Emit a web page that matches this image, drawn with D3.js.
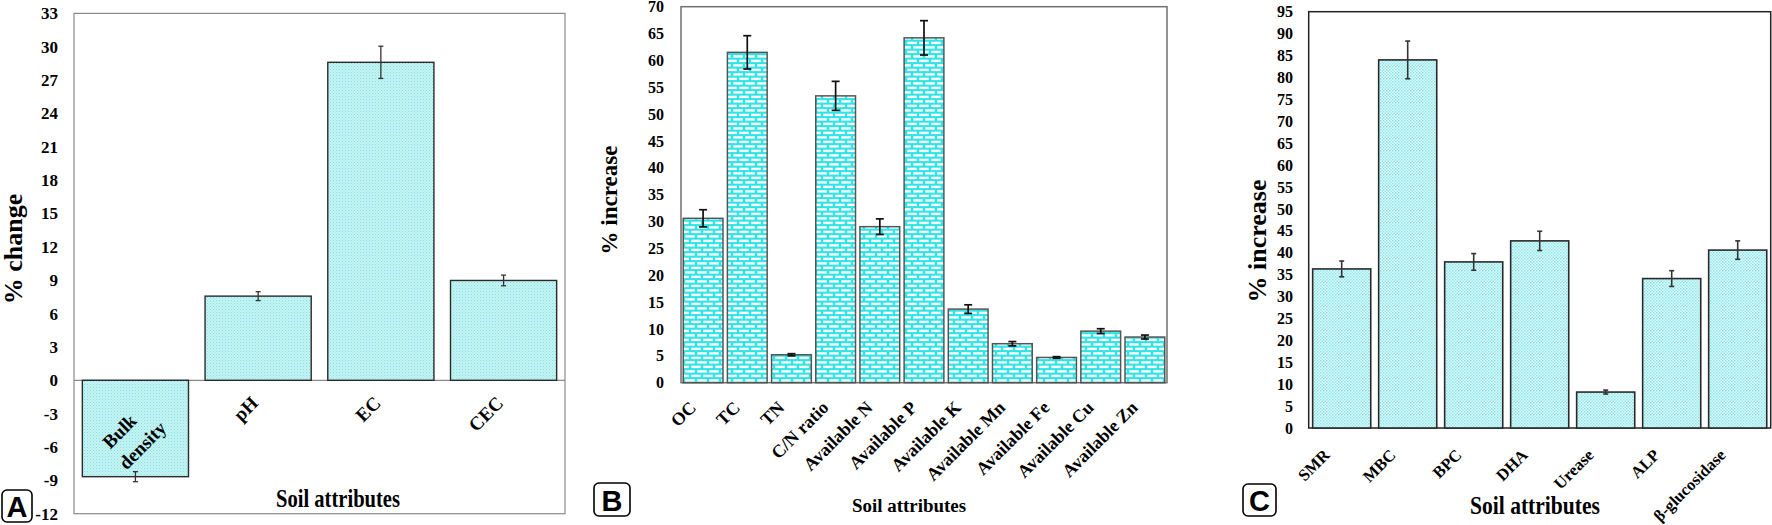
<!DOCTYPE html>
<html><head><meta charset="utf-8">
<script src="https://cdn.jsdelivr.net/npm/d3@7"></script>
<style>
html,body{margin:0;padding:0;background:#fff;}
svg{display:block;}
</style></head>
<body>
<svg id="chart" width="1772" height="525"></svg>
<script>
// ---- Panel A data ----
const catsA = ["Bulk density", "pH", "EC", "CEC"];
const valsA = [-8.67, 7.57, 28.6, 8.98];
const errA = [0.45, 0.4, 1.45, 0.48];
const ticksA = [-12, -9, -6, -3, 0, 3, 6, 9, 12, 15, 18, 21, 24, 27, 30, 33];

// ---- Panel B data ----
const catsB = ["OC", "TC", "TN", "C/N ratio", "Available N", "Available P", "Available K", "Available Mn", "Available Fe", "Available Cu", "Available Zn"];
const valsB = [30.6, 61.5, 5.2, 53.4, 29.05, 64.2, 13.7, 7.26, 4.7, 9.6, 8.5];
const errB = [1.6, 3.1, 0.2, 2.7, 1.45, 3.2, 0.8, 0.4, 0.15, 0.45, 0.37];
const ticksB = [0, 5, 10, 15, 20, 25, 30, 35, 40, 45, 50, 55, 60, 65, 70];

// ---- Panel C data ----
const catsC = ["SMR", "MBC", "BPC", "DHA", "Urease", "ALP", "β-glucosidase"];
const valsC = [36.3, 84.0, 37.9, 42.7, 8.2, 34.1, 40.6];
const errC = [1.8, 4.3, 1.9, 2.2, 0.45, 1.8, 2.1];
const ticksC = [0, 5, 10, 15, 20, 25, 30, 35, 40, 45, 50, 55, 60, 65, 70, 75, 80, 85, 90, 95];

const SERIF = '"Liberation Serif", "Times New Roman", serif';
const SANS = '"Liberation Sans", Arial, sans-serif';

const svg = d3.select("#chart");
const defs = svg.append("defs");

// Pattern A: light cyan dotted
const pA = defs.append("pattern").attr("id", "patA").attr("patternUnits", "userSpaceOnUse").attr("width", 3).attr("height", 3);
pA.append("rect").attr("width", 3).attr("height", 3).attr("fill", "#c4f4f4");
pA.append("rect").attr("x", 0).attr("y", 0).attr("width", 1).attr("height", 1).attr("fill", "#86dede");
pA.append("rect").attr("x", 1.5).attr("y", 1.5).attr("width", 1).attr("height", 1).attr("fill", "#9ee6e6");

// Pattern B: brick
const pB = defs.append("pattern").attr("id", "patB").attr("patternUnits", "userSpaceOnUse").attr("width", 12).attr("height", 9);
pB.append("rect").attr("width", 12).attr("height", 9).attr("fill", "#2fe3e6");
pB.append("rect").attr("x", 1.2).attr("y", 1.2).attr("width", 9.6).attr("height", 2.4).attr("fill", "#ffffff");
pB.append("rect").attr("x", -4.8).attr("y", 5.7).attr("width", 9.6).attr("height", 2.4).attr("fill", "#ffffff");
pB.append("rect").attr("x", 7.2).attr("y", 5.7).attr("width", 9.6).attr("height", 2.4).attr("fill", "#ffffff");

// Pattern C: fine check
const pC = defs.append("pattern").attr("id", "patC").attr("patternUnits", "userSpaceOnUse").attr("width", 3).attr("height", 3);
pC.append("rect").attr("width", 3).attr("height", 3).attr("fill", "#e2fafa");
pC.append("rect").attr("x", 0).attr("y", 0).attr("width", 1.5).attr("height", 1.5).attr("fill", "#86e4ea");
pC.append("rect").attr("x", 1.5).attr("y", 1.5).attr("width", 1.5).attr("height", 1.5).attr("fill", "#9aeaee");

function serifText(sel, size) {
  return sel.style("font-family", SERIF).style("font-weight", "bold").style("font-size", size + "px").style("fill", "#000");
}

function panel(cfg) {
  const g = svg.append("g");
  const x = d3.scaleBand().domain(cfg.cats).range([cfg.x0, cfg.x1])
    .paddingInner(cfg.pi).paddingOuter(cfg.po);
  const y = d3.scaleLinear().domain([cfg.ticks[0], cfg.ticks[cfg.ticks.length - 1]]).range([cfg.y0, cfg.y1]);

  // frame
  g.append("rect").attr("x", cfg.x0).attr("y", cfg.y1).attr("width", cfg.x1 - cfg.x0).attr("height", cfg.y0 - cfg.y1)
    .attr("fill", "none").attr("stroke", cfg.frameColor).attr("stroke-width", cfg.frameW);

  // y axis labels
  const ax = g.append("g").attr("transform", `translate(${cfg.x0},0)`)
    .call(d3.axisLeft(y).tickValues(cfg.ticks).tickSize(0).tickPadding(cfg.x0 - cfg.tickRight).tickFormat(d => String(d)));
  ax.select(".domain").remove();
  serifText(ax.selectAll("text"), cfg.tickFont);

  // zero line
  if (cfg.zeroLine) {
    g.append("line").attr("x1", cfg.x0).attr("x2", cfg.x1).attr("y1", y(0)).attr("y2", y(0))
      .attr("stroke", "#8a8a8a").attr("stroke-width", 1.2);
  }

  // bars
  g.selectAll(".bar").data(cfg.vals).join("rect")
    .attr("x", (d, i) => x(cfg.cats[i]))
    .attr("width", x.bandwidth())
    .attr("y", d => Math.min(y(d), y(0)))
    .attr("height", d => Math.abs(y(d) - y(0)))
    .attr("fill", cfg.fill).attr("stroke", cfg.barStroke).attr("stroke-width", cfg.barStrokeW);

  // error bars
  const eg = g.append("g").attr("stroke", cfg.errColor).attr("stroke-width", cfg.errW);
  cfg.vals.forEach((v, i) => {
    const cx = x(cfg.cats[i]) + x.bandwidth() / 2;
    const e = cfg.errs[i];
    eg.append("line").attr("x1", cx).attr("x2", cx).attr("y1", y(v + e)).attr("y2", y(v - e));
    eg.append("line").attr("x1", cx - cfg.cap).attr("x2", cx + cfg.cap).attr("y1", y(v + e)).attr("y2", y(v + e));
    eg.append("line").attr("x1", cx - cfg.cap).attr("x2", cx + cfg.cap).attr("y1", y(v - e)).attr("y2", y(v - e));
  });

  // x labels
  cfg.cats.forEach((c, i) => {
    const cx = x(c) + x.bandwidth() / 2;
    if (cfg.inside && cfg.inside[c]) {
      cfg.inside[c].forEach(l => {
        serifText(g.append("text"), cfg.labFont).attr("text-anchor", "middle").attr("dominant-baseline", "central")
          .attr("transform", `translate(${cx + l.dx},${y(0) + l.dy}) rotate(-45)`).text(l.t);
      });
      return;
    }
    serifText(g.append("text"), cfg.labFont).attr("text-anchor", "end")
      .attr("transform", `translate(${cx + cfg.labDx},${y(0) + cfg.labDy}) rotate(-45)`).text(c);
  });

  // y title
  serifText(g.append("text"), cfg.yTitleFont).attr("text-anchor", "middle")
    .attr("transform", `translate(${cfg.yTitleX},${cfg.yTitleY}) rotate(-90)`).text(cfg.yTitle);

  // x title
  serifText(g.append("text"), cfg.xTitleFont).attr("text-anchor", "middle")
    .attr("x", cfg.xTitleX).attr("y", cfg.xTitleY)
    .attr("textLength", cfg.xTitleLen).attr("lengthAdjust", "spacingAndGlyphs").text("Soil attributes");

  // panel letter
  g.append("rect").attr("x", cfg.box[0]).attr("y", cfg.box[1]).attr("width", cfg.box[2]).attr("height", cfg.box[3])
    .attr("rx", 5).attr("ry", 5).attr("fill", "#fff").attr("stroke", "#000").attr("stroke-width", 1.6);
  g.append("text").attr("text-anchor", "middle").attr("dominant-baseline", "central")
    .style("font-family", SANS).style("font-weight", "bold").style("font-size", "29px").style("fill", "#000")
    .attr("x", cfg.box[0] + cfg.box[2] / 2).attr("y", cfg.box[1] + cfg.box[3] / 2 + 1)
    .text(cfg.letter);
}

panel({
  cats: catsA, vals: valsA, errs: errA, ticks: ticksA,
  x0: 74, x1: 565, y0: 513.7, y1: 13.4, pi: 0.135, po: 0.068,
  frameColor: "#8a8a8a", frameW: 1.2, tickRight: 58, tickFont: 17, zeroLine: true,
  fill: "url(#patA)", barStroke: "#2a2a2a", barStrokeW: 1.4,
  errColor: "#333", errW: 1.3, cap: 2.5,
  labFont: 19, labDx: 1, labDy: 24,
  inside: { "Bulk density": [{ t: "Bulk", dx: -16, dy: 51 }, { t: "density", dx: 7, dy: 65 }] },
  yTitle: "% change", yTitleFont: 26, yTitleX: 22, yTitleY: 249,
  xTitleX: 338, xTitleY: 507, xTitleFont: 25, xTitleLen: 124,
  box: [2, 490, 30, 32], letter: "A"
});

panel({
  cats: catsB, vals: valsB, errs: errB, ticks: ticksB,
  x0: 681, x1: 1167, y0: 382.7, y1: 6.7, pi: 0.1, po: 0.05,
  frameColor: "#707070", frameW: 1.5, tickRight: 664, tickFont: 16, zeroLine: false,
  fill: "url(#patB)", barStroke: "#555", barStrokeW: 1.5,
  errColor: "#111", errW: 1.7, cap: 4,
  labFont: 18, labDx: -6, labDy: 26,
  yTitle: "% increase", yTitleFont: 23, yTitleX: 617, yTitleY: 200,
  xTitleX: 909, xTitleY: 512, xTitleFont: 18, xTitleLen: 114,
  box: [594, 483, 36, 33], letter: "B"
});

panel({
  cats: catsC, vals: valsC, errs: errC, ticks: ticksC,
  x0: 1308.7, x1: 1770.7, y0: 428, y1: 11.7, pi: 0.12, po: 0.06,
  frameColor: "#222", frameW: 1.5, tickRight: 1293, tickFont: 16, zeroLine: false,
  fill: "url(#patC)", barStroke: "#2a2a2a", barStrokeW: 1.6,
  errColor: "#333", errW: 1.6, cap: 2.5,
  labFont: 16.5, labDx: -11, labDy: 28,
  yTitle: "% increase", yTitleFont: 26, yTitleX: 1266, yTitleY: 241,
  xTitleX: 1535, xTitleY: 514, xTitleFont: 25, xTitleLen: 130,
  box: [1243, 484, 33, 32], letter: "C"
});
</script>
</body></html>
